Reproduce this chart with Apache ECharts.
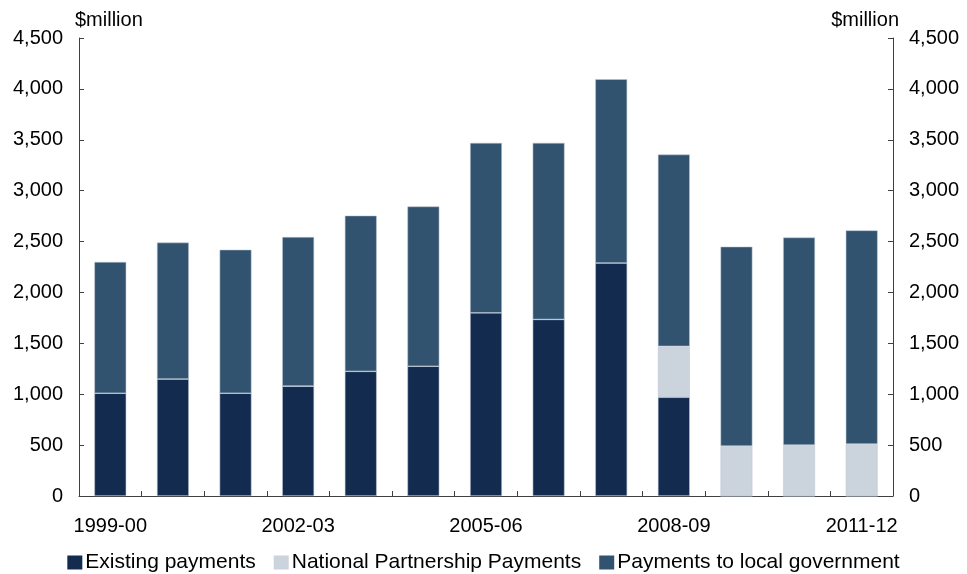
<!DOCTYPE html>
<html><head><meta charset="utf-8">
<script src="https://cdn.jsdelivr.net/npm/echarts@6/dist/echarts.min.js"></script>
<style>html,body{margin:0;padding:0;background:#fff}#c{width:967px;height:574px}</style>
</head><body><div id="c"></div>
<script>
const categories = ['1999-00','2000-01','2001-02','2002-03','2003-04','2004-05','2005-06','2006-07','2007-08','2008-09','2009-10','2010-11','2011-12'];
const existingPayments = [1010,1150,1010,1080,1225,1275,1800,1735,2290,970,0,0,0];
const nationalPartnership = [0,0,0,0,0,0,0,0,0,500,490,500,510];
const localGovernment = [1290,1340,1410,1465,1530,1570,1670,1735,1805,1885,1960,2040,2100];
const yTicks = {min:0, max:4500, interval:500};

const font = 'Liberation Sans, Arial, sans-serif';
const axisColor = '#404040';
const chart = echarts.init(document.getElementById('c'));
const fmt = v => v.toLocaleString('en-US');
const yAxisBase = (pos) => ({
  type:'value', position:pos, min:yTicks.min, max:yTicks.max, interval:yTicks.interval,
  name:'$million', nameLocation:'end', nameGap:18,
  nameTextStyle:{fontFamily:font, fontSize:20, color:'#000', align: pos==='left'?'left':'right', verticalAlign:'middle', padding: pos==='left'?[0,0,0,-4]:[0,-6,0,0]},
  axisLine:{show:true, lineStyle:{color:axisColor, width:1}},
  axisTick:{show:true, inside:true, length:5, lineStyle:{color:axisColor}},
  axisLabel:{fontFamily:font, fontSize:20, color:'#000', margin:16, formatter:fmt},
  splitLine:{show:false}
});
const barStyle = c => ({color:c, borderColor:'rgba(190,200,212,0.9)', borderWidth:0.6});
chart.setOption({
  animation:false,
  grid:{left:79, right:74, top:38, bottom:78, containLabel:false},
  legend:{top:547, left:'center', icon:'rect', itemWidth:15, itemHeight:14, itemGap:18,
    itemStyle:{borderWidth:0},
    textStyle:{fontFamily:font, fontSize:21, color:'#000', padding:[0,0,0,-2]},
    data:['Existing payments','National Partnership Payments','Payments to local government']},
  xAxis:{type:'category', data:categories,
    axisLine:{lineStyle:{color:axisColor, width:1}},
    axisTick:{show:true, inside:true, length:5, interval:0, lineStyle:{color:axisColor}},
    axisLabel:{interval:2, fontFamily:font, fontSize:20, color:'#000', margin:20}},
  yAxis:[yAxisBase('left'), yAxisBase('right')],
  series:[
    {name:'Existing payments', type:'bar', stack:'s', data:existingPayments, barWidth:'51%', itemStyle:barStyle('#142b50')},
    {name:'National Partnership Payments', type:'bar', stack:'s', data:nationalPartnership, itemStyle:barStyle('#cbd3dc')},
    {name:'Payments to local government', type:'bar', stack:'s', data:localGovernment, itemStyle:barStyle('#31536f')}
  ]
});
</script></body></html>
